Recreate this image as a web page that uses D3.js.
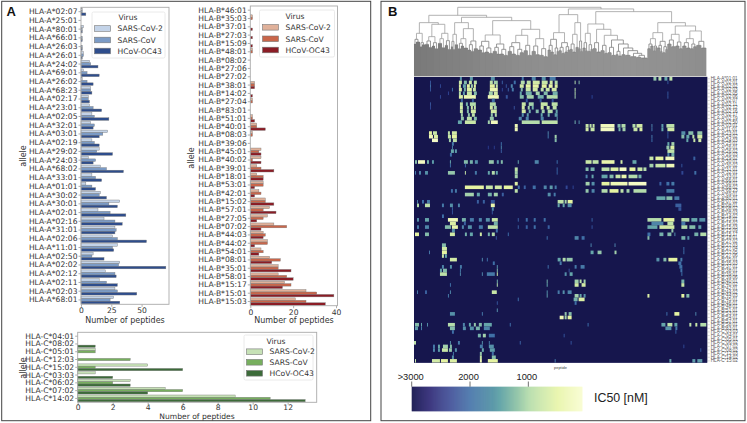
<!DOCTYPE html>
<html><head><meta charset="utf-8">
<script src="https://cdn.jsdelivr.net/npm/d3@7"></script>
<style>html,body{margin:0;padding:0;background:#fff}svg{display:block}</style>
</head><body><svg id="c" width="747" height="423"><defs><filter id="soft" x="0" y="0" width="1" height="1"><feGaussianBlur stdDeviation="0.45"/></filter><clipPath id="hmClip"><rect x="414" y="77" width="293.3" height="285.7"/></clipPath></defs></svg>
<script>
const seriesNames = ["SARS-CoV-2","SARS-CoV","HCoV-OC43"];
const allelesA = ["02:07","25:01","80:01","66:01","26:03","26:01","24:02","69:01","26:02","68:23","02:17","23:01","02:05","32:01","03:01","02:19","29:02","24:03","68:02","33:01","01:01","30:02","30:01","02:01","02:16","31:01","02:06","11:01","02:50","02:02","02:12","02:11","02:03","68:01"].map(d=>"HLA-A*"+d);
const a_sars2 = [1,0,2,0,0,2,7,2,1,8,6,7,9,8,22,9,15,6,16,9,4,16,32,14,19,28,26,30,10,32,20,15,28,27];
const a_sars  = [1,0,1,1,1,2,8,5,5,8,6,10,11,11,18,11,13,12,21,12,9,15,23,24,28,29,30,26,9,31,28,21,30,24];
const a_oc43  = [4,0,1,1,1,1,14,15,10,9,7,17,23,10,15,15,26,10,35,17,12,21,30,37,34,28,54,27,19,70,29,30,46,32];
const allelesB = ["46:01","35:03","37:01","27:03","15:09","48:01","08:02","27:06","27:02","38:01","14:02","27:04","83:01","51:01","40:01","08:03","39:06","45:01","40:02","39:01","18:01","53:01","42:01","15:02","57:01","27:05","07:02","44:03","44:02","54:01","08:01","35:01","58:01","15:17","15:01","15:03"].map(d=>"HLA-B*"+d);
const b_sars2 = [0,1,0,0,0,1,0,0,0,2,0,1,0,1,3,1,0,5,5,3,3,6,4,7,9,8,11,6,8,5,9,13,13,16,26,21];
const b_sars  = [0,1,0,0,0,1,0,0,0,2,0,1,0,1,3,1,0,4,1,5,6,6,5,7,6,6,17,7,8,6,14,13,17,19,31,26];
const b_oc43  = [0,0,1,1,1,0,0,0,0,2,1,0,0,2,7,0,0,5,5,11,6,2,2,11,12,3,5,6,2,4,10,19,20,15,39,35];
const allelesC = ["04:01","08:02","05:01","12:03","15:02","03:03","06:02","07:02","14:02"].map(d=>"HLA-C*"+d);
const c_sars2 = [0,0,1,0,4,1,3,5,9];
const c_sars  = [0,0,1,3,1,0,2,6,11];
const c_oc43  = [0,1,0,0,6,2,3,4,13];
const ticksA = [0,25,50], ticksB = [0,20,40], ticksC = [0,2,4,6,8,10,12];
const blues  = ["#c3d3e8","#7b9bc6","#2e4d8c"];
const reds   = ["#e0b19a","#c9664a","#8b1c25"];
const greens = ["#c6e1b6","#77af5e","#3c6b39"];

// heat map: [row, [firstPeptide, lastPeptide, IC50 nM], ...]
const heatTop = [
[0,[46,48,1700],[56,59,1600],[77,81,1700],[108,110,1900],[118,122,1800],[128,132,1700],[136,142,1900],[240,243,1200],[245,248,1000],[251,254,1500],[256,259,900]],
[1,[16,17,2200],[45,48,800],[50,53,1300],[55,58,800],[60,63,900],[76,79,900],[80,84,1100],[88,89,2100],[100,102,2000],[107,111,1000],[113,117,900],[119,126,700],[128,134,800],[136,139,700],[141,144,1000],[161,162,1000],[165,166,1300],[254,255,2200]],
[2,[16,17,2000],[26,27,2300],[45,47,600],[49,52,1500],[53,56,500],[57,59,1100],[60,62,500],[76,81,500],[82,84,800],[92,93,2200],[97,99,1800],[106,110,700],[112,117,500],[119,125,450],[128,133,500],[135,139,450],[141,144,600]],
[3,[16,17,2200],[38,39,2000],[45,48,600],[50,52,1400],[53,58,550],[59,62,800],[76,84,350],[88,89,2300],[94,95,2100],[98,100,1900],[107,109,1300],[112,117,800],[119,124,700],[127,130,900],[132,136,800],[138,143,700],[161,162,900]],
[4,[34,35,2300],[45,47,1000],[49,51,1600],[53,58,800],[60,63,1300],[75,79,1100],[80,84,700],[106,108,1500],[112,118,1400],[122,126,1100],[130,134,1300],[139,144,1400],[161,162,1000],[254,255,2200]],
[5,[26,27,2300],[45,49,600],[50,62,350],[74,85,300],[92,94,2200],[106,110,1300],[113,120,1100],[124,130,1400],[133,144,1000],[161,162,1100],[178,179,2300],[254,255,2200]],
[6,[47,49,2100],[58,60,2100],[78,81,2000],[112,114,2200],[126,128,2200],[138,140,2200]],
[7,[16,17,2200],[46,49,900],[52,54,1400],[56,62,1000],[76,82,1000],[108,112,800],[115,120,1100],[127,134,800],[138,144,900]],
[8,[16,17,2300],[46,49,700],[53,55,1300],[57,59,700],[60,62,800],[76,79,700],[80,83,1100],[100,101,2200],[108,111,700],[114,116,1100],[118,120,1400],[127,130,700],[133,136,800],[139,143,900]],
[9,[46,49,800],[53,55,1300],[57,62,700],[77,83,700],[108,112,700],[115,117,1400],[122,125,1300],[128,131,1100],[134,139,1000],[142,144,1500]],
[10,[47,49,1100],[54,56,1200],[58,61,900],[77,79,1200],[81,83,1000],[108,110,1700],[113,115,1600],[127,129,1500],[134,136,1400],[141,144,1600]],
[11,[47,50,1200],[53,58,900],[60,63,1300],[76,80,1200],[105,108,1800],[112,115,1800],[127,130,1800],[143,144,1600]],
[12,[44,48,1500],[51,62,800],[74,76,1100],[77,84,250],[108,126,1000],[128,144,900],[161,162,1400],[165,166,1700]],
[13,[101,104,300],[172,175,800],[176,178,900],[179,181,800],[187,201,250],[204,207,1300],[208,212,1000],[219,222,1000],[223,229,700],[238,239,1800],[248,250,1600],[253,261,900]],
[14,[101,104,300],[172,175,700],[177,181,800],[187,201,200],[205,207,1400],[209,212,1100],[220,224,800],[226,229,600],[238,239,1900],[248,250,1500],[254,261,700]],
[15,[15,18,500],[19,23,800],[34,36,900],[38,43,700],[134,135,1800],[254,255,2200],[268,272,1700],[275,280,1300],[284,289,1200]],
[16,[15,19,300],[20,24,600],[34,37,800],[38,43,500],[134,135,1900],[141,143,1100],[238,239,1900],[254,255,2200],[268,271,1300],[273,276,1500],[279,281,900],[284,289,700]],
[17,[18,24,150],[35,37,1100],[39,43,900],[141,143,1300],[238,239,2000],[273,275,1500],[280,282,800],[285,288,700]]
];
const heatMid = [
[18,[38,40,1900],[87,88,2000],[254,256,1500],[258,261,1100]],
[19,[38,39,1800],[74,75,2400],[80,81,2400],[87,88,1800],[253,256,1200],[257,261,600]],
[20,[37,40,1500],[41,43,1600],[87,88,2100],[254,261,900]],
[21,[36,38,2000],[254,256,1800],[258,261,1400]],
[22,[236,240,800],[242,250,500],[252,261,250],[280,282,2100]],
[23,[1,3,1300],[4,11,200],[13,15,1400],[18,20,1600],[36,37,1500],[50,54,1300],[56,59,1400],[61,64,1700],[75,80,1200],[83,85,1600],[87,89,1300],[104,105,1500],[121,125,1800],[143,144,2000],[172,178,800],[179,185,900],[188,201,400],[207,209,700],[219,223,1500]],
[24,[36,37,2000],[51,52,2000],[236,240,1100],[242,252,800],[253,261,300],[268,269,2200]],
[25,[101,104,900],[172,175,1300],[177,181,1400],[188,196,900],[197,205,600],[206,213,200],[216,222,500],[224,229,800],[230,233,1000],[143,144,2100]],
[26,[1,2,1900],[5,7,1800],[11,14,1700],[34,41,1200],[51,52,800],[61,63,1900],[74,76,1500],[78,81,1000],[82,84,1500],[101,104,1100],[143,144,2100],[268,270,2300],[281,283,2000]],
[27,[101,104,1100],[172,174,1800],[178,180,1500],[188,194,1500],[196,200,1300],[202,207,800],[208,213,400],[215,224,1000],[225,228,1400]],
[29,[101,104,600],[172,176,1100],[178,181,1700],[188,196,500],[197,214,300],[215,233,150],[246,248,2100],[253,256,2000],[258,261,1900]],
[30,[51,70,500],[72,79,800],[81,88,700],[90,99,500],[104,106,2000],[110,112,2100],[119,122,2000],[130,133,1800],[136,139,1600],[141,143,1900],[152,154,2300],[159,160,2300]],
[31,[37,39,2000],[41,43,1900],[101,104,900],[172,175,1200],[178,181,1800],[188,194,1000],[196,205,500],[207,210,900],[213,216,1100],[220,233,1000],[253,261,1900]],
[32,[51,60,1100],[63,66,1500],[74,78,1400],[80,84,1100],[88,90,2100],[134,137,1700],[140,142,1900]],
[33,[243,252,1500],[253,259,1300],[261,266,1900]],
[34,[3,4,1900],[8,10,2000],[13,16,1900],[63,65,2100],[69,71,2100],[77,81,2200],[144,150,900],[151,153,1100],[154,159,500]],
[35,[3,5,1000],[11,16,900],[28,30,1900],[36,39,1700],[44,46,1800],[77,81,400],[144,146,1500],[149,151,1500],[154,158,1700],[262,268,2100]],
[36,[38,39,2100],[78,80,1800],[265,268,2200]],
[37,[38,39,2200],[78,79,2200]],
[38,[28,30,2000]],
[39,[3,5,1700],[11,15,1500],[34,44,300],[48,52,1400],[56,60,1900],[65,68,1800],[72,76,1700],[78,84,800],[104,105,2100],[112,114,2000],[120,122,2000],[130,132,2000],[178,179,2100],[234,248,1000],[250,261,500],[268,276,1000],[278,284,1500],[286,292,1700]],
[40,[36,42,600],[50,52,2100],[80,84,1400],[238,250,1800],[254,260,900],[268,272,1900]],
[41,[3,5,1900],[11,15,1800],[31,37,1300],[38,44,400],[48,50,1800],[54,58,1700],[65,69,1900],[74,84,900],[104,105,2100],[112,114,2100],[120,122,2000],[134,136,2100],[178,179,2200],[234,244,1500],[246,261,700],[268,274,1000],[276,282,1300],[285,288,1600]],
[42,[38,41,1700],[82,84,2000],[258,260,1200]],
[43,[1,5,500],[11,15,1300],[36,41,700],[51,53,1400],[56,59,1500],[66,68,700],[74,76,1400],[78,81,1000],[94,95,2000],[234,237,2000],[246,250,1400],[254,258,1300],[261,262,1700],[281,285,1400],[287,293,1000]],
[44,[82,83,2200],[133,134,2000],[161,165,1800],[168,171,2000],[234,236,1300],[268,272,1400],[274,276,1700]],
[46,[28,32,1300],[177,178,1800],[201,202,1800]],
[47,[28,33,700],[270,271,2000]],
[48,[15,16,1900],[28,33,500],[177,180,1500],[184,188,1200],[201,203,1100],[270,271,2000]],
[49,[28,30,800],[31,33,1500]],
[50,[36,43,700],[68,69,1800],[73,74,2000],[144,147,1500],[149,152,1000],[153,159,1200],[243,246,1700],[250,253,1300],[255,264,500],[267,269,1900]],
[51,[79,81,2000],[146,148,1900],[265,268,2000]],
[52,[28,30,1800],[36,38,1700],[46,48,1900],[83,84,1700],[134,135,2000],[161,163,1900],[167,171,1900],[266,269,2000]]
];
const heatBottom = [
[53,[26,28,1500],[29,33,1300],[46,47,1900],[83,84,1300],[155,156,2200],[267,269,2000]],
[54,[26,33,900],[46,47,1800],[68,69,1800],[73,81,1900],[83,84,700],[151,153,1700],[156,159,1500],[268,269,2000]],
[56,[83,84,1400],[133,134,1400],[161,165,1100],[166,168,900],[170,172,1100],[268,271,1400]],
[57,[36,37,2000],[83,84,1000],[133,134,1500],[161,165,700],[168,172,700],[268,271,800]],
[59,[3,4,1900],[11,13,2100],[36,37,1800],[78,83,800],[133,134,1700],[144,146,1900],[149,151,1700],[154,158,1800]],
[60,[34,35,1900],[133,134,1600],[161,165,1100],[166,168,1500],[170,172,1700],[234,236,600],[268,271,500],[273,276,1300]],
[61,[104,105,2000],[160,164,1400],[165,171,600]],
[62,[83,84,2200],[161,163,2000]],
[64,[83,84,1700]],
[65,[36,41,1700],[68,69,1900],[151,153,1200],[155,158,1300],[253,254,2000],[261,266,500],[282,283,1800]],
[66,[146,150,300],[151,153,1100],[154,158,500]],
[68,[1,5,1300],[7,8,1500],[13,14,1700],[34,41,1000],[49,51,1800],[55,57,1500],[60,62,1200],[65,68,1300],[70,78,1500],[96,97,2000],[174,175,2000],[248,252,1500],[254,259,900],[261,264,1500],[276,278,900],[282,284,800],[287,293,1000]],
[69,[1,4,1600],[7,8,1900],[36,41,1300],[49,52,1700],[56,60,1700],[62,66,1400],[70,76,1800],[252,258,1700],[262,264,1900]],
[70,[38,40,2000],[262,263,2100]],
[71,[64,67,1400],[69,72,1100],[75,81,2000],[150,151,2200]],
[73,[0,2,900],[36,37,1700],[44,46,1900],[68,69,1700],[75,76,1900],[106,107,2100],[157,158,2200]],
[74,[19,21,1900],[24,26,1500],[29,34,1100],[36,38,1300],[66,69,1900],[75,80,1700],[270,271,2300]],
[75,[19,21,1800],[24,26,1600],[28,34,800],[35,38,1200],[41,43,1700],[68,70,1500],[76,81,1600],[287,288,2200]],
[76,[39,40,1900],[66,68,1200],[78,80,2000]],
[77,[38,40,1700],[66,68,800],[78,82,1300]],
[78,[1,2,800],[18,26,700],[27,34,500],[36,43,600],[66,68,300],[74,84,500],[141,142,1900],[256,258,1500],[279,282,1600],[284,289,1600]]
];
const heatLabelsSorted = [allelesA, allelesB, allelesC].flatMap(a => a.slice().sort());
const peptideCount = 293;

// dendrogram: [distance, left, right]; leaf group: [distance, number of peptides]
const dendroTree = [206,
 [182,
  [160,
   [128,[110,[96,2],[102,4]],[100,[88,2],[94,3]]],
   [155,[118,[105,[95,4],[86,3]],[100,[90,3],[82,3]]],[128,[112,[98,4],[85,3]],[106,[92,3],[80,3]]]]],
  [176,
   [160,[125,[104,[88,2],[80,2]],[94,3]],[142,[112,[98,[82,3],[90,3]],[84,4]],[105,[94,[78,3],[74,3]],[82,4]]]],
   [166,
    [123,[104,[90,[78,4],[70,3]],[84,[72,4],[68,4]]],[96,[86,[74,4],[66,3]],[80,[66,4],[62,4]]]],
    [140,[122,[100,[88,[74,4],[66,4]],[80,[62,4],[70,4]]],[92,[76,4],[62,4]]],[112,[90,[74,4],[64,4]],[82,[62,4],[58,4]]]]]]],
 [201,
  [184,
   [130,[110,[92,[78,3],[72,3]],[84,[64,3],[74,2]]],[100,[86,[76,3],[68,3]],[88,[72,3],[78,2]]]],
   [160,[125,[96,[80,3],[72,3]],[86,3]],[105,[82,2],[74,2]]]],
  [193,
   [156,
    [128,[100,[84,3],[76,2]],[94,[74,3],[80,2]]],
    [140,[100,[82,4],[72,4]],[122,[92,[76,4],[68,3]],[108,[86,[70,4],[62,4]],[96,[74,[64,3],[60,3]],[84,[64,4],[76,[62,5],[68,[58,6],[62,[56,5],[54,6]]]]]]]]]],
   [160,
    [130,[112,[96,[82,3],[90,3]],[90,[76,2],[86,2]]],[104,[92,[84,3],[74,2]],[88,[70,3],[80,2]]]],
    [150,[125,[108,[96,4],[88,4]],[102,[90,4],[82,3]]],[135,[112,[100,[90,4],[84,4]],[96,[82,3],[88,3]]],[104,[92,5],[84,5]]]]]]]
];

const colorbarTicks = [3000,2000,1000];
const colorStops = [[3000,"#14144e"],[2700,"#201a6c"],[2350,"#2f3f8e"],[2000,"#3f6fa6"],[1500,"#66a6aa"],[1000,"#b4dcab"],[500,"#e6f4a2"],[85,"#f8fcce"]];

const svg = d3.select("#c");
const sans = "'DejaVu Sans'", helv = "'Liberation Sans'";
const ink = "#333";

// panel frames
svg.append("rect").attr("x",1.7).attr("y",1.3).attr("width",369).attr("height",419.4).attr("fill","none").attr("stroke","#444").attr("stroke-width",1);
svg.append("rect").attr("x",381).attr("y",1.3).attr("width",364).attr("height",419.4).attr("fill","none").attr("stroke","#444").attr("stroke-width",1);
svg.append("text").text("A").attr("x",6.5).attr("y",16).attr("font-family",helv).attr("font-weight","bold").attr("font-size",13).attr("fill","#111");
svg.append("text").text("B").attr("x",388).attr("y",15.5).attr("font-family",helv).attr("font-weight","bold").attr("font-size",13).attr("fill","#111");

function barPanel(o){
  const x = d3.scaleLinear().domain(o.xDomain).range([o.left,o.right]);
  const y = d3.scaleBand().domain(o.cats).range([o.top,o.bottom]).paddingInner(0.12).paddingOuter(0.06);
  const inner = d3.scaleBand().domain(seriesNames).range([0,y.bandwidth()]);
  const g = svg.append("g");
  seriesNames.forEach((s,i)=>{
    g.append("g").selectAll("rect").data(o.series[i]).join("rect")
      .attr("x",x(0)).attr("y",(d,k)=>y(o.cats[k])+inner(s))
      .attr("width",d=>x(d)-x(0)).attr("height",inner.bandwidth())
      .attr("fill",o.colors[i]).attr("stroke","#777").attr("stroke-width",d=>d>0?0.4:0);
  });
  const ax = d3.axisBottom(x).tickValues(o.ticks).tickSize(2.5).tickPadding(o.tickPad);
  const ay = d3.axisLeft(y).tickSize(2.5).tickPadding(1);
  const gx = svg.append("g").attr("transform",`translate(0,${o.bottom})`).call(ax);
  const gy = svg.append("g").attr("transform",`translate(${o.left},0)`).call(ay);
  [gx,gy].forEach(a=>{a.select(".domain").remove();a.selectAll("line").attr("stroke","#777").attr("stroke-width",.6);
    a.selectAll("text").attr("font-family",sans).attr("font-size",7.6).attr("fill",ink);});
  svg.append("rect").attr("x",o.left).attr("y",o.top).attr("width",o.right-o.left).attr("height",o.bottom-o.top).attr("fill","none").attr("stroke","#aaa").attr("stroke-width",.9);
  svg.append("text").text("Number of peptides").attr("x",o.xLabel[0]).attr("y",o.xLabel[1]).attr("text-anchor","middle").attr("font-family",sans).attr("font-size",o.labelSize).attr("fill",ink);
  svg.append("text").text("allele").attr("transform",`translate(${o.yLabel[0]},${o.yLabel[1]}) rotate(-90)`).attr("text-anchor","middle").attr("font-family",sans).attr("font-size",8).attr("fill",ink);
  // legend
  const L = o.legend;
  svg.append("rect").attr("x",L.x).attr("y",L.y).attr("width",L.w).attr("height",L.h).attr("rx",1.5).attr("fill","#fff").attr("fill-opacity",.9).attr("stroke","#e4e4e4").attr("stroke-width",.8);
  svg.append("text").text("Virus").attr("x",L.cx).attr("y",L.ty).attr("text-anchor","middle").attr("font-family",sans).attr("font-size",7.6).attr("fill",ink);
  seriesNames.forEach((s,i)=>{
    svg.append("rect").attr("x",L.sx).attr("y",L.rows[i]-2.8).attr("width",16).attr("height",5.6).attr("fill",o.colors[i]).attr("stroke","#777").attr("stroke-width",.6);
    svg.append("text").text(s).attr("x",L.sx+23).attr("y",L.rows[i]+2.7).attr("font-family",sans).attr("font-size",7.6).attr("fill",ink);
  });
}
barPanel({cats:allelesA,series:[a_sars2,a_sars,a_oc43],colors:blues,xDomain:[0,72.6],ticks:ticksA,left:81,right:169,top:7.3,bottom:304.3,tickPad:1.3,labelSize:8,
  xLabel:[125,322.5],yLabel:[26,156],legend:{x:92,y:12,w:73,h:46,cx:128,ty:20,sx:94.5,rows:[28.5,40,51]}});
barPanel({cats:allelesB,series:[b_sars2,b_sars,b_oc43],colors:reds,xDomain:[0,40.7],ticks:ticksB,left:250.3,right:337.5,top:6,bottom:305.7,tickPad:1.3,labelSize:8,
  xLabel:[294,323],yLabel:[194,158],legend:{x:259.5,y:10,w:75,h:47,cx:295,ty:19,sx:262.5,rows:[27.3,38.8,50]}});
barPanel({cats:allelesC,series:[c_sars2,c_sars,c_oc43],colors:greens,xDomain:[0,13.66],ticks:ticksC,left:77.7,right:316.7,top:332.3,bottom:402.3,tickPad:0,labelSize:7.6,
  xLabel:[197,419.4],yLabel:[26,368],legend:{x:244,y:335,w:69,h:45,cx:276,ty:343.5,sx:246.5,rows:[351.7,362.3,373.3]}});

// panel B: heat map
const hmX = d3.scaleBand().domain(d3.range(peptideCount+1)).range([414,707.3]);
const hmY = d3.scaleBand().domain(heatLabelsSorted).range([77,362.7]);
const color = d3.scaleLinear().domain(colorStops.map(d=>d[0])).range(colorStops.map(d=>d[1])).clamp(true);
svg.append("rect").attr("x",414).attr("y",77).attr("width",293.3).attr("height",285.7).attr("fill",color(3000));
const hm = svg.append("g").attr("clip-path","url(#hmClip)").append("g").attr("filter","url(#soft)");
hm.append("rect").attr("x",414).attr("y",77).attr("width",293.3).attr("height",285.7).attr("fill",color(3000));
heatTop.concat(heatMid,heatBottom).forEach(r=>{
  const row = r[0];
  hm.append("g").selectAll("rect").data(r.slice(1)).join("rect")
    .attr("x",d=>hmX(d[0])).attr("y",hmY(heatLabelsSorted[row]))
    .attr("width",d=>hmX(d[1])-hmX(d[0]))
    .attr("height",hmY.bandwidth()).attr("fill",d=>color(d[2]));
});
const rowAxis = d3.axisRight(hmY).tickSize(2.5).tickPadding(1);
const gr = svg.append("g").attr("transform","translate(707.3,0)").call(rowAxis);
gr.select(".domain").remove();
gr.selectAll("line").attr("stroke","#888").attr("stroke-width",.3);
gr.selectAll("text").attr("font-family",helv).attr("font-size",4.6).attr("fill","#555");
svg.append("text").text("peptide").attr("x",560.5).attr("y",368.5).attr("text-anchor","middle").attr("font-family",helv).attr("font-size",4).attr("fill","#444");

// dendrogram
const dY = d3.scaleLinear().domain([0,206]).range([76,7.3]);
const dg = svg.append("g").attr("fill","none");
let leafIx = 0;
function drawNode(n){
  if(n.length===2 && typeof n[1]==="number"){
    const xs=[];
    for(let i=0;i<n[1];i++){xs.push(hmX(leafIx)+hmX.bandwidth()/2);leafIx++;}
    const px = d3.mean(xs);
    xs.forEach(x=>dg.append("path").attr("d",`M${x},${dY(n[0])}V${dY(0)}`).attr("stroke","#555").attr("stroke-width",.8));
    dg.append("path").attr("d",`M${xs[0]},${dY(n[0])}H${xs[xs.length-1]}`).attr("stroke","#777").attr("stroke-width",.6);
    return {x:px,h:n[0]};
  }
  const a = drawNode(n[1]), b = drawNode(n[2]);
  dg.append("path").attr("d",`M${a.x},${dY(a.h)}V${dY(n[0])}H${b.x}V${dY(b.h)}`).attr("stroke",n[0]>110?"#a0a0a0":"#808080").attr("stroke-width",.8);
  return {x:(a.x+b.x)/2,h:n[0]};
}
drawNode(dendroTree);
svg.append("line").attr("x1",414).attr("x2",707.3).attr("y1",76.5).attr("y2",76.5).attr("stroke","#d0d0d0").attr("stroke-width",1);

// colour bar
const cbX = d3.scaleLinear().domain([3000,85]).range([411.7,581.7]);
const cb = svg.append("g");
cb.selectAll("rect").data(d3.range(3000,85,-17)).join("rect")
  .attr("x",d=>cbX(d)).attr("y",386.7).attr("width",1.2).attr("height",24.6).attr("fill",d=>color(d));
cb.selectAll("line").data(colorbarTicks).join("line").attr("x1",d=>cbX(d)).attr("x2",d=>cbX(d)).attr("y1",381.5).attr("y2",386.7).attr("stroke","#333").attr("stroke-width",.7);
cb.selectAll("text.t").data(colorbarTicks).join("text").attr("class","t").text(d=>d===3000?">3000":d)
  .attr("x",d=>cbX(d)-(d===3000?1:1.5)).attr("y",380).attr("text-anchor","middle").attr("font-family",helv).attr("font-size",9.3).attr("fill","#222");
svg.append("text").text("IC50 [nM]").attr("x",594).attr("y",401.5).attr("font-family",helv).attr("font-size",12.4).attr("fill","#222");
</script></body></html>
